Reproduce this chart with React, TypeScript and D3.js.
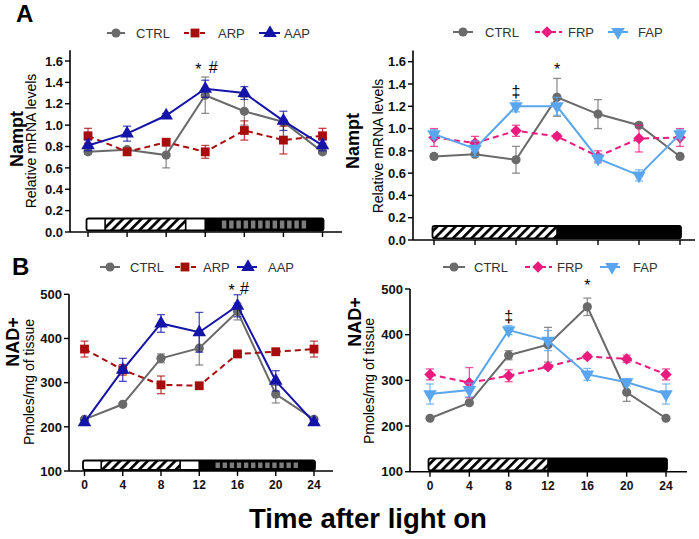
import React from 'react';
import * as d3 from 'd3';

// ---------------- DATA ----------------
const hours = [0, 4, 8, 12, 16, 20, 24];
const xTickLabels = ['0', '4', '8', '12', '16', '20', '24'];
const namptTicks = [0, 0.2, 0.4, 0.6, 0.8, 1.0, 1.2, 1.4, 1.6];
const nadTicks = [100, 200, 300, 400, 500];

const namptCTRL = [0.75, 0.77, 0.72, 1.28, 1.13, 1.03, 0.75];
const namptCTRLErr = [0.02, 0.02, 0.12, 0.17, 0.13, 0.02, 0.02];
const namptARP = [0.9, 0.75, 0.84, 0.75, 0.95, 0.86, 0.9];
const namptARPErr = [0.07, 0.03, 0.03, 0.06, 0.09, 0.13, 0.07];
const namptAAP = [0.81, 0.92, 1.09, 1.34, 1.3, 1.04, 0.81];
const namptAAPErr = [0.05, 0.07, 0.02, 0.08, 0.06, 0.09, 0.05];
const namptFRP = [0.92, 0.87, 0.98, 0.93, 0.75, 0.91, 0.92];
const namptFRPErr = [0.08, 0.06, 0.05, 0.02, 0.05, 0.12, 0.08];
const namptFAP = [0.95, 0.82, 1.2, 1.2, 0.73, 0.58, 0.95];
const namptFAPErr = [0.04, 0.07, 0.05, 0.08, 0.04, 0.05, 0.04];

const nadCTRL = [217, 251, 355, 378, 461, 274, 217];
const nadCTRLErr = [3, 3, 10, 38, 19, 20, 3];
const nadARP = [376, 329, 295, 293, 365, 370, 376];
const nadARPErr = [18, 12, 20, 5, 5, 5, 18];
const nadAAP = [210, 329, 434, 414, 474, 304, 210];
const nadAAPErr = [5, 26, 20, 45, 25, 23, 5];
const nadFRP = [313, 295, 310, 330, 352, 347, 313];
const nadFRPErr = [12, 33, 13, 5, 5, 8, 12];
const nadFAP = [270, 279, 410, 387, 313, 296, 270];
const nadFAPErr = [22, 15, 10, 22, 13, 8, 22];

// light/dark schedule bars (hours)
const restrictedSchedule = [
  { from: 0, to: 1.75, kind: 'white' },
  { from: 1.75, to: 10, kind: 'hatch' },
  { from: 10, to: 12, kind: 'white' },
  { from: 12, to: 24, kind: 'dark' },
];
const restrictedStripes = [13.6, 22.5];
const freeSchedule = [
  { from: 0, to: 12, kind: 'hatch' },
  { from: 12, to: 24, kind: 'dark' },
];

// ---------------- STYLE ----------------
const FONT = "'Liberation Sans', Arial, Helvetica, sans-serif";
const C_CTRL = '#6a6a6a';
const C_ARP = '#a80d0d';
const C_AAP = '#1414a8';
const C_FRP = '#ea1a7e';
const C_FAP = '#5aa6ee';

type SymKind = 'circle' | 'square' | 'triangle' | 'diamond' | 'triangleDown';

function symbolPath(kind: SymKind): { d: string; rot: number } {
  switch (kind) {
    case 'circle':
      return { d: d3.symbol().type(d3.symbolCircle).size(66)()!, rot: 0 };
    case 'square':
      return { d: d3.symbol().type(d3.symbolSquare).size(78)()!, rot: 0 };
    case 'triangle':
      return { d: d3.symbol().type(d3.symbolTriangle).size(80)()!, rot: 0 };
    case 'triangleDown':
      return { d: d3.symbol().type(d3.symbolTriangle).size(80)()!, rot: 180 };
    case 'diamond':
      return { d: d3.symbol().type(d3.symbolSquare).size(66)()!, rot: 45 };
  }
}

type Series = {
  name: string;
  values: number[];
  errors: number[];
  color: string;
  sym: SymKind;
  dashed?: boolean;
};

type LegendPos = { l1: number; l2: number; m: number; t: number };

type PanelCfg = {
  yAxisX: number;
  x0: number;
  x24: number;
  xEnd: number;
  yDomain: [number, number];
  yRange: [number, number];
  axisTop: number;
  ticks: number[];
  fmt: (v: number) => string;
  showXLabels: boolean;
  title: string;
  titlePos: [number, number];
  titleSize: number;
  sub: string;
  subPos: [number, number];
  legendY: number;
  legend: LegendPos[];
  series: Series[];
  schedule: { from: number; to: number; kind: string }[];
  stripes?: number[];
  barTop: number;
  barBottom: number;
  annotations: { text: string; hour: number; dx: number; y: number }[];
};

function Panel({ cfg, id }: { cfg: PanelCfg; id: string }) {
  const x = d3.scaleLinear().domain([0, 24]).range([cfg.x0, cfg.x24]);
  const y = d3.scaleLinear().domain(cfg.yDomain).range(cfg.yRange);
  const yBase = y(cfg.yDomain[0]);
  const line = d3
    .line<number>()
    .x((_, i) => x(hours[i]))
    .y((v) => y(v));

  const bx0 = x(0) - 1.5;
  const bx1 = x(24) + 1;
  const stripeXs: number[] = [];
  let stripeW = 0;
  if (cfg.stripes) {
    const n = 12;
    const s0 = x(cfg.stripes[0]);
    const s1 = x(cfg.stripes[1]);
    const step = (s1 - s0) / n;
    stripeW = step * 0.62;
    for (let i = 0; i < n; i++) stripeXs.push(s0 + i * step);
  }

  return (
    <g>
      <defs>
        <pattern id={`hatch-${id}`} patternUnits="userSpaceOnUse" width={6.5} height={6.5} patternTransform="rotate(45)">
          <rect width={6.5} height={6.5} fill="#fff" />
          <rect width={2.7} height={6.5} fill="#000" />
        </pattern>
        <clipPath id={`clip-${id}`}>
          <rect x={bx0} y={cfg.barTop} width={bx1 - bx0} height={cfg.barBottom - cfg.barTop} rx={2} />
        </clipPath>
      </defs>

      {/* schedule bar */}
      <g clipPath={`url(#clip-${id})`}>
        {cfg.schedule.map((s, i) => (
          <rect
            key={i}
            x={s.from === 0 ? bx0 : x(s.from)}
            y={cfg.barTop}
            width={(s.to === 24 ? bx1 : x(s.to)) - (s.from === 0 ? bx0 : x(s.from))}
            height={cfg.barBottom - cfg.barTop}
            fill={s.kind === 'white' ? '#fff' : s.kind === 'hatch' ? `url(#hatch-${id})` : '#000'}
          />
        ))}
        {stripeXs.map((sx, i) => (
          <rect key={i} x={sx + 1} y={cfg.barTop + 2} width={stripeW} height={cfg.barBottom - cfg.barTop - 4} fill="#7c7c7c" />
        ))}
        {cfg.schedule.map((s, i) =>
          s.from > 0 ? (
            <line key={i} x1={x(s.from)} x2={x(s.from)} y1={cfg.barTop} y2={cfg.barBottom} stroke="#000" strokeWidth={1.6} />
          ) : null
        )}
      </g>
      <rect x={bx0} y={cfg.barTop} width={bx1 - bx0} height={cfg.barBottom - cfg.barTop} rx={2} fill="none" stroke="#000" strokeWidth={1.8} />

      {/* axes */}
      <line x1={cfg.yAxisX} x2={cfg.yAxisX} y1={y(cfg.axisTop)} y2={yBase} stroke="#000" strokeWidth={1.6} />
      <line x1={cfg.yAxisX} x2={cfg.xEnd} y1={yBase} y2={yBase} stroke="#000" strokeWidth={1.6} />
      {cfg.ticks.map((t) => (
        <g key={t}>
          <line x1={cfg.yAxisX - 5} x2={cfg.yAxisX} y1={y(t)} y2={y(t)} stroke="#000" strokeWidth={1.4} />
          <text x={cfg.yAxisX - 7} y={y(t)} dy="0.36em" textAnchor="end" fontSize={13} fontWeight="bold" fontFamily={FONT} fill="#111">
            {cfg.fmt(t)}
          </text>
        </g>
      ))}
      {hours.map((h, i) => (
        <g key={h}>
          <line x1={x(h)} x2={x(h)} y1={yBase} y2={yBase + 5} stroke="#000" strokeWidth={1.4} />
          {cfg.showXLabels && (
            <text x={x(h)} y={yBase + 18} textAnchor="middle" fontSize={12} fontWeight="bold" fontFamily={FONT} fill="#111">
              {xTickLabels[i]}
            </text>
          )}
        </g>
      ))}

      {/* axis titles */}
      <text
        transform={`translate(${cfg.titlePos[0]},${cfg.titlePos[1]}) rotate(-90)`}
        textAnchor="middle"
        dy="0.35em"
        fontSize={cfg.titleSize}
        fontWeight="bold"
        fontFamily={FONT}
        fill="#000"
      >
        {cfg.title}
      </text>
      <text
        transform={`translate(${cfg.subPos[0]},${cfg.subPos[1]}) rotate(-90)`}
        textAnchor="middle"
        dy="0.35em"
        fontSize={14}
        fontFamily={FONT}
        fill="#000"
      >
        {cfg.sub}
      </text>

      {/* series */}
      {cfg.series.map((s) => {
        const sp = symbolPath(s.sym);
        return (
          <g key={s.name}>
            <path
              d={line(s.values)!}
              fill="none"
              stroke={s.color}
              strokeWidth={2}
              strokeDasharray={s.dashed ? '6,4' : undefined}
            />
            {s.values.map((v, i) => (
              <g key={i} stroke={s.color} strokeOpacity={0.75} strokeWidth={1.3}>
                <line x1={x(hours[i])} x2={x(hours[i])} y1={y(v - s.errors[i])} y2={y(v + s.errors[i])} />
                <line x1={x(hours[i]) - 4} x2={x(hours[i]) + 4} y1={y(v - s.errors[i])} y2={y(v - s.errors[i])} />
                <line x1={x(hours[i]) - 4} x2={x(hours[i]) + 4} y1={y(v + s.errors[i])} y2={y(v + s.errors[i])} />
              </g>
            ))}
            {s.values.map((v, i) => (
              <path key={i} d={sp.d} transform={`translate(${x(hours[i])},${y(v)}) rotate(${sp.rot})`} fill={s.color} />
            ))}
          </g>
        );
      })}

      {/* legend */}
      {cfg.series.map((s, i) => {
        const lp = cfg.legend[i];
        const sp = symbolPath(s.sym);
        return (
          <g key={s.name}>
            <line
              x1={lp.l1}
              x2={lp.l2}
              y1={cfg.legendY}
              y2={cfg.legendY}
              stroke={s.color}
              strokeWidth={2}
              strokeDasharray={s.dashed ? '5,3' : undefined}
            />
            <path d={sp.d} transform={`translate(${lp.m},${cfg.legendY}) rotate(${sp.rot})`} fill={s.color} />
            <text x={lp.t} y={cfg.legendY} dy="0.36em" fontSize={13} fontFamily={FONT} fill="#333">
              {s.name}
            </text>
          </g>
        );
      })}

      {/* annotations */}
      {cfg.annotations.map((a, i) => (
        <text key={i} x={x(a.hour) + a.dx} y={a.y} dy="0.36em" textAnchor="middle" fontSize={16} fontFamily={FONT} fill="#000">
          {a.text}
        </text>
      ))}
    </g>
  );
}

const fmt1 = d3.format('.1f');
const fmt0 = d3.format('d');

const ctrlN: Series = { name: 'CTRL', values: namptCTRL, errors: namptCTRLErr, color: C_CTRL, sym: 'circle' };
const ctrlD: Series = { name: 'CTRL', values: nadCTRL, errors: nadCTRLErr, color: C_CTRL, sym: 'circle' };

const panels: PanelCfg[] = [
  {
    yAxisX: 70, x0: 88, x24: 322.5, xEnd: 342,
    yDomain: [0, 1.6], yRange: [232, 61], axisTop: 1.7,
    ticks: namptTicks, fmt: fmt1, showXLabels: false,
    title: 'Nampt', titlePos: [17, 139], titleSize: 18,
    sub: 'Relative mRNA levels', subPos: [31, 141],
    legendY: 33,
    legend: [
      { l1: 107, l2: 125, m: 116, t: 136 },
      { l1: 184, l2: 207, m: 195, t: 218 },
      { l1: 259, l2: 280, m: 270, t: 284 },
    ],
    series: [
      ctrlN,
      { name: 'ARP', values: namptARP, errors: namptARPErr, color: C_ARP, sym: 'square', dashed: true },
      { name: 'AAP', values: namptAAP, errors: namptAAPErr, color: C_AAP, sym: 'triangle' },
    ],
    schedule: restrictedSchedule, stripes: restrictedStripes,
    barTop: 218.5, barBottom: 230.5,
    annotations: [
      { text: '*', hour: 12, dx: -7, y: 69 },
      { text: '#', hour: 12, dx: 8, y: 67 },
    ],
  },
  {
    yAxisX: 413, x0: 434, x24: 680, xEnd: 695,
    yDomain: [0, 1.6], yRange: [240, 61.7], axisTop: 1.7,
    ticks: namptTicks, fmt: fmt1, showXLabels: false,
    title: 'Nampt', titlePos: [353, 141], titleSize: 18,
    sub: 'Relative mRNA levels', subPos: [378, 146],
    legendY: 32,
    legend: [
      { l1: 453, l2: 473, m: 463, t: 485 },
      { l1: 535, l2: 562, m: 547, t: 568 },
      { l1: 608, l2: 628, m: 618, t: 638 },
    ],
    series: [
      ctrlN,
      { name: 'FRP', values: namptFRP, errors: namptFRPErr, color: C_FRP, sym: 'diamond', dashed: true },
      { name: 'FAP', values: namptFAP, errors: namptFAPErr, color: C_FAP, sym: 'triangleDown' },
    ],
    schedule: freeSchedule,
    barTop: 226, barBottom: 238.3,
    annotations: [
      { text: '‡', hour: 8, dx: 0, y: 91 },
      { text: '*', hour: 12, dx: 0, y: 69 },
    ],
  },
  {
    yAxisX: 69, x0: 84.5, x24: 314, xEnd: 333,
    yDomain: [100, 500], yRange: [471, 294.3], axisTop: 500,
    ticks: nadTicks, fmt: fmt0, showXLabels: true,
    title: 'NAD+', titlePos: [13, 342], titleSize: 18,
    sub: 'Pmoles/mg of tissue', subPos: [29, 382],
    legendY: 267,
    legend: [
      { l1: 100, l2: 120, m: 110, t: 130 },
      { l1: 175, l2: 197, m: 185, t: 203 },
      { l1: 237, l2: 257, m: 248, t: 268 },
    ],
    series: [
      ctrlD,
      { name: 'ARP', values: nadARP, errors: nadARPErr, color: C_ARP, sym: 'square', dashed: true },
      { name: 'AAP', values: nadAAP, errors: nadAAPErr, color: C_AAP, sym: 'triangle' },
    ],
    schedule: restrictedSchedule, stripes: restrictedStripes,
    barTop: 460.5, barBottom: 470,
    annotations: [
      { text: '*', hour: 16, dx: -6, y: 290 },
      { text: '#', hour: 16, dx: 7, y: 288 },
    ],
  },
  {
    yAxisX: 410, x0: 430, x24: 666, xEnd: 687,
    yDomain: [100, 500], yRange: [471.7, 289], axisTop: 500,
    ticks: nadTicks, fmt: fmt0, showXLabels: true,
    title: 'NAD+', titlePos: [355, 322], titleSize: 18,
    sub: 'Pmoles/mg of tissue', subPos: [369, 381],
    legendY: 267,
    legend: [
      { l1: 443, l2: 465, m: 454, t: 474 },
      { l1: 525, l2: 552, m: 538, t: 557 },
      { l1: 600, l2: 620, m: 612, t: 633 },
    ],
    series: [
      ctrlD,
      { name: 'FRP', values: nadFRP, errors: nadFRPErr, color: C_FRP, sym: 'diamond', dashed: true },
      { name: 'FAP', values: nadFAP, errors: nadFAPErr, color: C_FAP, sym: 'triangleDown' },
    ],
    schedule: freeSchedule,
    barTop: 458.3, barBottom: 470.5,
    annotations: [
      { text: '‡', hour: 8, dx: 0, y: 316 },
      { text: '*', hour: 16, dx: 0, y: 285 },
    ],
  },
];

export default function App() {
  return (
    <svg
      width={699}
      height={539}
      viewBox="0 0 699 539"
      style={{ position: 'absolute', left: 0, top: 0, background: '#fff' }}
    >
      <rect width={699} height={539} fill="#fff" />
      {panels.map((p, i) => (
        <Panel key={i} cfg={p} id={`p${i}`} />
      ))}
      <text x={16} y={22} fontSize={24} fontWeight="bold" fontFamily={FONT}>A</text>
      <text x={12} y={275} fontSize={24} fontWeight="bold" fontFamily={FONT}>B</text>
      <text x={368} y={528} textAnchor="middle" fontSize={27.5} fontWeight="bold" fontFamily={FONT}>
        Time after light on
      </text>
    </svg>
  );
}
